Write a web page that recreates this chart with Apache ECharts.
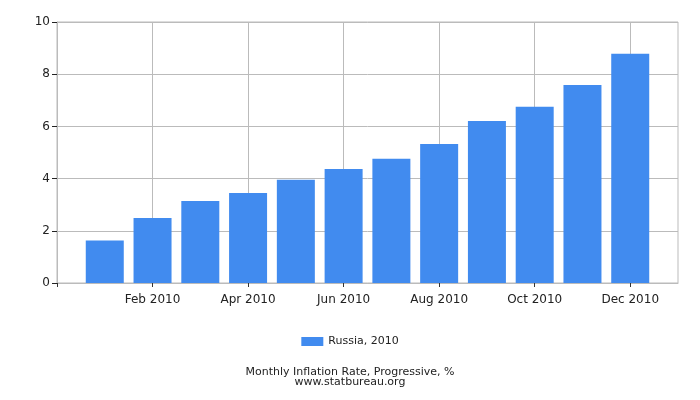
<!DOCTYPE html>
<html><head><meta charset="utf-8">
<script src="https://cdn.jsdelivr.net/npm/echarts@6/dist/echarts.min.js"></script>
<style>html,body{margin:0;padding:0;background:#fff}#c{width:700px;height:400px}</style>
</head><body><div id="c"></div>
<script>
var months = ['Jan 2010','Feb 2010','Mar 2010','Apr 2010','May 2010','Jun 2010','Jul 2010','Aug 2010','Sep 2010','Oct 2010','Nov 2010','Dec 2010'];
var values = [1.63, 2.49, 3.14, 3.45, 3.96, 4.37, 4.76, 5.33, 6.21, 6.75, 7.59, 8.78];
var seriesName = 'Russia, 2010';
var yTicks = [0, 2, 4, 6, 8, 10];
var xTickPositions = [0, 2, 4, 6, 8, 10, 12];

var chart = echarts.init(document.getElementById('c'));
var font = 'DejaVu Sans';
chart.setOption({
  animation: false,
  textStyle: {fontFamily: font},
  grid: {left: 57, right: 22, top: 22, bottom: 117, show: true, borderColor: '#bbb', borderWidth: 1},
  title: {
    text: 'Monthly Inflation Rate, Progressive, %\nwww.statbureau.org',
    left: 'center', top: 362,
    textStyle: {fontSize: 11, fontWeight: 'normal', color: '#222', fontFamily: font, lineHeight: 10}
  },
  legend: {
    data: [seriesName], top: 331, left: 'center',
    itemWidth: 22, itemHeight: 9, itemGap: 4,
    icon: 'rect',
    textStyle: {fontSize: 11, color: '#222', fontFamily: font}
  },
  xAxis: {
    type: 'value', min: 0, max: months.length + 1,
    axisLine: {show: true, lineStyle: {color: '#bbb'}},
    axisTick: {show: true, length: 4, lineStyle: {color: '#333'}, customValues: xTickPositions},
    splitLine: {show: true, lineStyle: {color: '#bbb'}},
    axisLabel: {
      fontSize: 12, color: '#222', margin: 11, fontFamily: font,
      customValues: xTickPositions,
      formatter: function (v) { return (v >= 1 && v <= months.length) ? months[v - 1] : ''; }
    }
  },
  yAxis: {
    type: 'value', min: yTicks[0], max: yTicks[yTicks.length - 1], interval: 2,
    axisLine: {show: true, lineStyle: {color: '#bbb'}},
    axisTick: {show: true, length: 5, lineStyle: {color: '#222'}},
    splitLine: {show: true, lineStyle: {color: '#bbb'}},
    axisLabel: {fontSize: 12, color: '#222', margin: 7, fontFamily: font}
  },
  series: [{
    name: seriesName, type: 'bar', barWidth: 38,
    itemStyle: {color: '#418bef'},
    data: values.map(function (v, i) { return [i + 1, v]; })
  }]
});
</script></body></html>
